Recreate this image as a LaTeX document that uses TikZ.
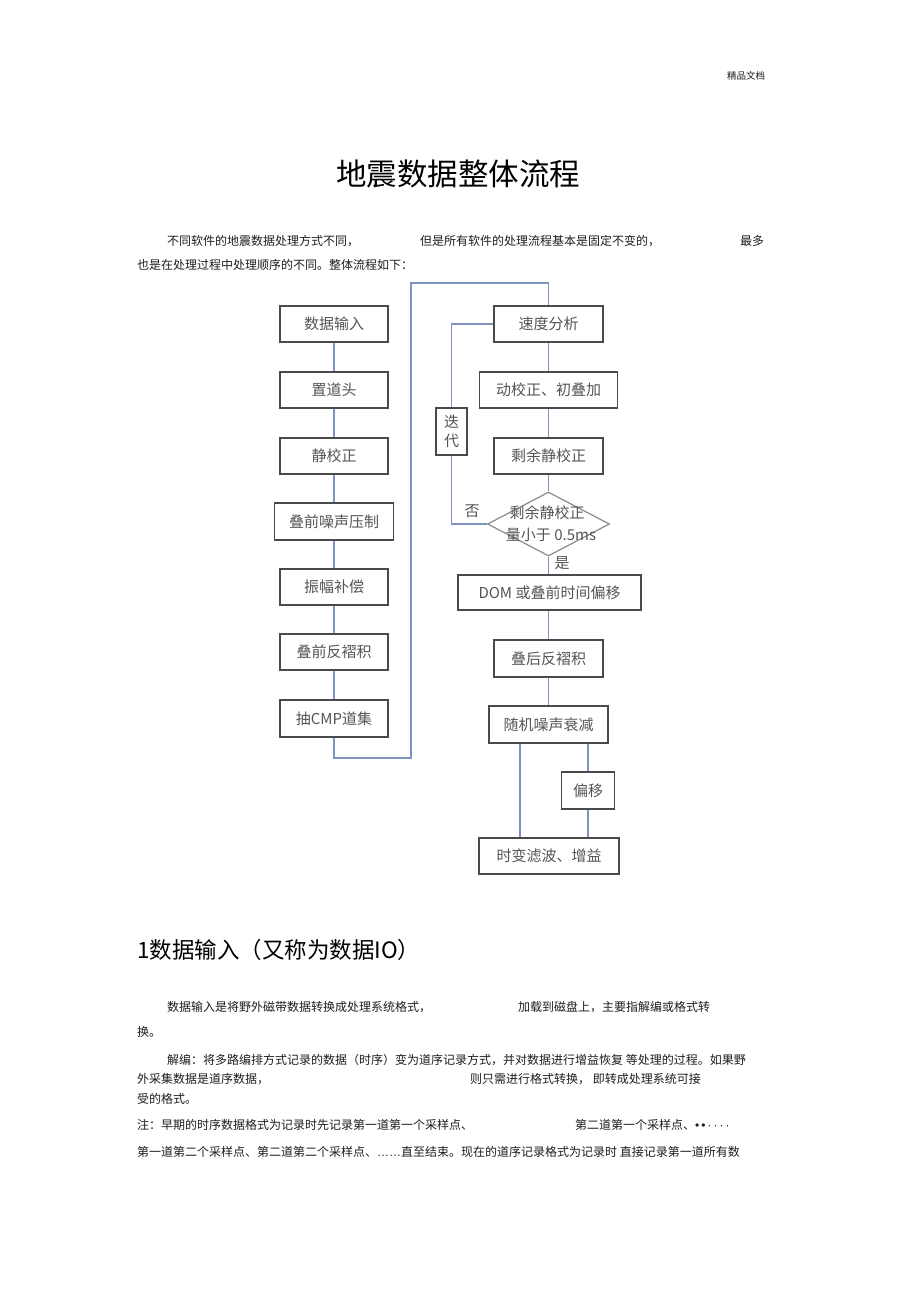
\documentclass[tikz,border=0pt]{standalone}
\usepackage{fontspec}
\setmainfont{Noto Sans CJK SC}
\newfontfamily\latfont{Liberation Sans}
\usetikzlibrary{shapes.geometric}
\definecolor{boxgray}{HTML}{4A4A4A}
\definecolor{txtgray}{HTML}{555555}
\definecolor{linkblue}{HTML}{7E93C2}
\definecolor{diagray}{HTML}{8C8C8C}
\definecolor{bodyblack}{HTML}{1E1E1E}
\tikzset{
  stepbox/.style={draw=boxgray, line width=1.4pt, inner sep=0pt, minimum height=36pt,
    font=\fontsize{15}{15}\selectfont, text=txtgray},
  link/.style={draw=linkblue, line width=1.2pt},
  body/.style={anchor=west, inner sep=0pt, font=\fontsize{12}{12}\selectfont, text=bodyblack},
  lbl/.style={inner sep=0pt, font=\fontsize{15}{15}\selectfont, text=txtgray}
}
\begin{document}
\begin{tikzpicture}[x=1pt,y=-1pt]
\path[use as bounding box, fill=white] (0,0) rectangle (920,1303);

% header and title
\node[anchor=west, inner sep=0pt, font=\fontsize{9.5}{9.5}\selectfont, text=bodyblack] (hdr) at (727,76) {精品文档};
\node[inner sep=0pt, font=\fontsize{30.5}{30.5}\selectfont, text=black] (title) at (458,174) {地震数据整体流程};

% intro paragraph
\node[body] (p1a) at (167,241) {不同软件的地震数据处理方式不同，};
\node[body] (p1b) at (420,241) {但是所有软件的处理流程基本是固定不变的，};
\node[body] (p1c) at (740,241) {最多};
\node[body] (p2) at (137,265) {也是在处理过程中处理顺序的不同。整体流程如下：};

% left column
\node[stepbox, minimum width=108pt] (sjsr) at (334,324) {数据输入};
\node[stepbox, minimum width=108pt] (zdt) at (334,390) {置道头};
\node[stepbox, minimum width=108pt] (jjz) at (334,456) {静校正};
\node[stepbox, minimum width=119pt, minimum height=37pt] (dqzs) at (334,521.5) {叠前噪声压制};
\node[stepbox, minimum width=108pt] (zfbc) at (334,587) {振幅补偿};
\node[stepbox, minimum width=108pt] (dqfzj) at (334,652) {叠前反褶积};
\node[stepbox, minimum width=108pt, minimum height=37pt] (cmp) at (334,718.5) {抽CMP道集};

% right column
\node[stepbox, minimum width=109pt] (sdfx) at (548.5,324) {速度分析};
\node[stepbox, minimum width=138pt] (djz) at (548.5,390) {动校正、初叠加};
\node[stepbox, minimum width=109pt] (syjz) at (548.5,456) {剩余静校正};
\node[stepbox, minimum width=31pt, minimum height=47pt, text width=16pt, align=center,
      font=\fontsize{15}{19}\selectfont] (dd) at (451.5,431.5) {迭\\代};
\node[diamond, draw=diagray, line width=1.2pt, inner sep=0pt, minimum width=122pt,
      minimum height=64pt] (dia) at (548.5,524) {};
\node[lbl] (dt1) at (547,513) {剩余静校正};
\node[lbl] (dt2) at (551,535) {量小于 0.5ms};
\node[lbl] (fou) at (472,511) {否};
\node[lbl] (shi) at (562,563) {是};
\node[stepbox, minimum width=183pt, minimum height=35pt] (dom) at (549.5,592.5) {DOM 或叠前时间偏移};
\node[stepbox, minimum width=109pt, minimum height=37pt] (dhfzj) at (548.5,658.5) {叠后反褶积};
\node[stepbox, minimum width=119pt, minimum height=37pt] (sjzs) at (548.5,724.5) {随机噪声衰减};
\node[stepbox, minimum width=53pt, minimum height=37pt] (py) at (588,790.5) {偏移};
\node[stepbox, minimum width=140pt] (sblb) at (549,856) {时变滤波、增益};

% connectors, left column and big loop
\coordinate (lb) at (334,758);
\coordinate (lbr) at (411,758);
\coordinate (ltr) at (411,283);
\coordinate (rtop) at (548.5,283);
\draw[link] (sjsr) -- (zdt);
\draw[link] (zdt) -- (jjz);
\draw[link] (jjz) -- (dqzs);
\draw[link] (dqzs) -- (zfbc);
\draw[link] (zfbc) -- (dqfzj);
\draw[link] (dqfzj) -- (cmp);
\draw[link] (cmp.south) -- (lb) -- (lbr) -- (ltr) -- (rtop) -- (sdfx.north);

% right column connectors
\draw[link] (sdfx) -- (djz);
\draw[link] (djz) -- (syjz);
\draw[link] (syjz.south) -- (dia.north);
\draw[link] (dia.south) -- (dia.south |- dom.north);
\draw[link] (dom.south -| dhfzj.north) -- (dhfzj.north);
\draw[link] (dhfzj) -- (sjzs);
\draw[link] (dia.west) -- (dia.west -| dd.south) -- (dd.south);
\draw[link] (dd.north) |- (sdfx.west);
\coordinate (cx) at (520,0);
\draw[link] (sjzs.south -| cx) -- (sblb.north -| cx);
\draw[link] (sjzs.south -| py.north) -- (py.north);
\draw[link] (py.south) -- (sblb.north -| py.south);

% section heading
\node[anchor=west, inner sep=0pt, font=\fontsize{22.5}{22.5}\selectfont, text=black] (h1) at (137,950) {1数据输入（又称为数据IO）};

% body text
\node[body] (b1a) at (167,1007) {数据输入是将野外磁带数据转换成处理系统格式，};
\node[body] (b1b) at (518,1007) {加载到磁盘上，主要指解编或格式转};
\node[body] (b2) at (137,1032) {换。};
\node[body] (b3) at (167,1060) {解编：将多路编排方式记录的数据（时序）变为道序记录方式，并对数据进行增益恢复 等处理的过程。如果野};
\node[body] (b4a) at (137,1079) {外采集数据是道序数据，};
\node[body] (b4b) at (470,1079) {则只需进行格式转换， 即转成处理系统可接};
\node[body] (b5) at (137,1099) {受的格式。};
\node[body] (b6a) at (137,1125) {注：早期的时序数据格式为记录时先记录第一道第一个采样点、};
\node[body] (b6b) at (575,1125) {第二道第一个采样点、{\latfont •\,•\,·\,·\,·\,·}};
\node[body] (b7) at (137,1152) {第一道第二个采样点、第二道第二个采样点、{\latfont ……}直至结束。现在的道序记录格式为记录时 直接记录第一道所有数};
\end{tikzpicture}
\end{document}
